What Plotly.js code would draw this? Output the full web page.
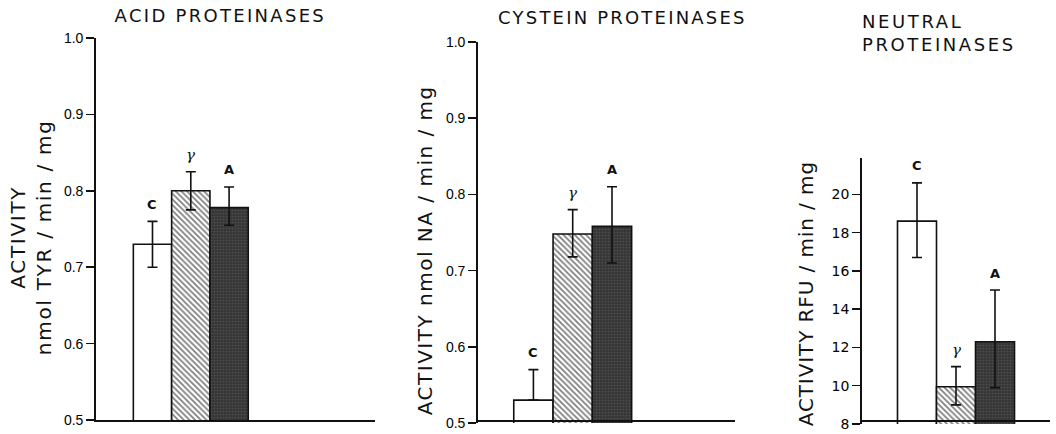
<!DOCTYPE html>
<html><head><meta charset="utf-8">
<script src="https://cdn.plot.ly/plotly-3.0.1.min.js"></script>
<style>html,body{margin:0;padding:0;background:#fff}</style>
</head><body><div id="chart" style="width:1056px;height:434px"></div>
<script>
// ---- data ----
const categories = ['C', 'γ', 'A'];
const acidValues = [0.73, 0.80, 0.778];
const acidErrUp = [0.03, 0.025, 0.027];
const acidErrDown = [0.03, 0.025, 0.023];
const cysteinValues = [0.53, 0.748, 0.758];
const cysteinErrUp = [0.04, 0.032, 0.052];
const cysteinErrDown = [0, 0.030, 0.048];
const neutralValues = [18.6, 9.95, 12.3];
const neutralErrUp = [2.0, 1.05, 2.7];
const neutralErrDown = [1.9, 0.95, 2.4];
const acidTicks = [0.5, 0.6, 0.7, 0.8, 0.9, 1.0];
const cysteinTicks = [0.5, 0.6, 0.7, 0.8, 0.9, 1.0];
const neutralTicks = [8, 10, 12, 14, 16, 18, 20];
const titles = ['ACID PROTEINASES', 'CYSTEIN PROTEINASES', 'NEUTRAL<br>PROTEINASES'];
const yTitles = ['ACTIVITY<br>nmol TYR / min / mg', 'ACTIVITY nmol NA / min / mg', 'ACTIVITY RFU / min / mg'];

// ---- styling ----
const W = 1056, H = 434;
const fx = p => p / W, fy = p => 1 - p / H;
const barStyles = [
  {color: '#ffffff', pattern: {shape: ''}},
  {color: '#ffffff', pattern: {shape: '\\', fgcolor: '#000000', bgcolor: '#ffffff', size: 4, solidity: 0.45, fillmode: 'overlay'}},
  {color: '#363636', pattern: {shape: '.', fgcolor: '#6a6a6a', bgcolor: '#363636', size: 3, solidity: 0.25, fillmode: 'overlay'}}
];
const data = [];
function traces(vals, up, down, xa, ya) {
  categories.forEach((c, i) => {
    data.push({
      type: 'bar', x: [c], y: [vals[i]], xaxis: xa, yaxis: ya, width: 1,
      marker: Object.assign({line: {color: '#111', width: 1.6}}, barStyles[i]),
      showlegend: false, hoverinfo: 'skip',
      error_y: {type: 'data', symmetric: false, array: [up[i]], arrayminus: [down[i]],
        color: '#111', thickness: 1.6, width: 5}
    });
  });
}
traces(acidValues, acidErrUp, acidErrDown, 'x', 'y');
traces(cysteinValues, cysteinErrUp, cysteinErrDown, 'x2', 'y2');
traces(neutralValues, neutralErrUp, neutralErrDown, 'x3', 'y3');

const axFont = {family: 'Liberation Sans Narrow, Liberation Sans, sans-serif', size: 14, color: '#000'};
function xax(d0, d1, r) {
  return {domain: [fx(d0), fx(d1)], range: r, type: 'category', categoryarray: categories, categoryorder: 'array',
    showticklabels: false, ticks: '', showline: true, linecolor: '#111', linewidth: 1.8,
    showgrid: false, zeroline: false, fixedrange: true};
}
function yax(d0, d1, r, tv, fmt, font, anchor) {
  return {domain: [fy(d1), fy(d0)], range: r, tickvals: tv, tickformat: fmt, ticks: 'outside',
    ticklen: 8, tickwidth: 1.5, tickcolor: '#111', showline: true, linecolor: '#111', linewidth: 1.8,
    showgrid: false, zeroline: false, tickfont: font, anchor: anchor, fixedrange: true,
    ticklabeloverflow: 'allow'};
}
const annotations = [];
function labels(vals, up, xr, yr) {
  vals.forEach((v, i) => {
    const g = categories[i] === 'γ';
    annotations.push({xref: xr, yref: yr, x: categories[i], y: v + up[i], yshift: 17,
      yanchor: 'middle', showarrow: false,
      text: g ? '<i>' + categories[i] + '</i>' : '<b>' + categories[i] + '</b>',
      font: g ? {family: 'DejaVu Serif, serif', size: 15, color: '#111'}
              : {family: 'DejaVu Sans, sans-serif', size: 13, color: '#111'}});
  });
}
labels(acidValues, acidErrUp, 'x', 'y');
labels(cysteinValues, cysteinErrUp, 'x2', 'y2');
labels(neutralValues, neutralErrUp, 'x3', 'y3');
const tFont = {family: 'DejaVu Sans, sans-serif', size: 18, color: '#111'};
annotations.push({xref: 'paper', yref: 'paper', x: fx(220), y: fy(15), text: titles[0], showarrow: false, font: tFont, xanchor: 'center', yanchor: 'middle'});
annotations.push({xref: 'paper', yref: 'paper', x: fx(622), y: fy(17), text: titles[1], showarrow: false, font: tFont, xanchor: 'center', yanchor: 'middle'});
annotations.push({xref: 'paper', yref: 'paper', x: fx(860), y: fy(33), text: titles[2], showarrow: false, font: tFont, xanchor: 'left', yanchor: 'middle', align: 'left'});
const yFont = {family: 'DejaVu Sans, sans-serif', size: 20, color: '#111'};
annotations.push({xref: 'paper', yref: 'paper', x: fx(31), y: fy(238), text: yTitles[0], showarrow: false, font: yFont, textangle: -90, xanchor: 'center', yanchor: 'middle'});
annotations.push({xref: 'paper', yref: 'paper', x: fx(425), y: fy(250), text: yTitles[1], showarrow: false, font: yFont, textangle: -90, xanchor: 'center', yanchor: 'middle'});
annotations.push({xref: 'paper', yref: 'paper', x: fx(806), y: fy(294), text: yTitles[2], showarrow: false, font: yFont, textangle: -90, xanchor: 'center', yanchor: 'middle'});
const spacing = {9: 2.3, 10: 2.2, 11: 2.6, 12: 1.7, 13: 1.5, 14: 0.9};

const layout = {
  width: W, height: H, margin: {l: 0, r: 0, t: 0, b: 0},
  paper_bgcolor: '#fff', plot_bgcolor: 'rgba(0,0,0,0)', bargap: 0, barmode: 'overlay', showlegend: false,
  xaxis: xax(96, 375, [-1.475, 5.81]),
  yaxis: yax(38, 420, [0.5, 1.0], acidTicks, '.1f', axFont, 'x'),
  xaxis2: xax(478, 735, [-1.41, 5.13]),
  yaxis2: yax(42, 423, [0.5, 1.0], cysteinTicks, '.1f', axFont, 'x2'),
  xaxis3: xax(862, 1050, [-1.41, 3.41]),
  yaxis3: yax(158, 424, [8, 21.9], neutralTicks, 'd', {family: 'DejaVu Sans, sans-serif', size: 14, color: '#000'}, 'x3'),
  annotations: annotations
};
Plotly.newPlot('chart', data, layout, {displayModeBar: false, staticPlot: true}).then(() => {
  document.querySelectorAll('#chart g.annotation').forEach(g => {
    const i = +g.getAttribute('data-index');
    if (spacing[i] !== undefined) {
      const t = g.querySelector('text');
      if (t) t.style.letterSpacing = spacing[i] + 'px';
    }
  });
});
</script></body></html>
